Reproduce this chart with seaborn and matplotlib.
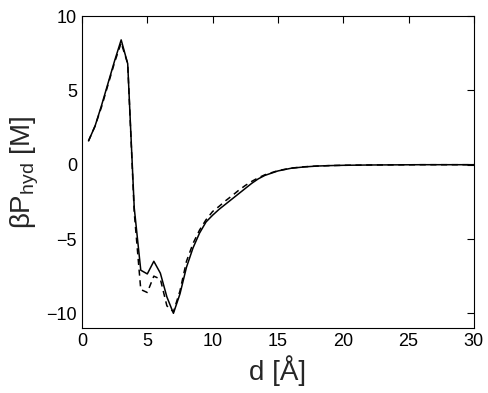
import numpy as np
import pandas as pd
import matplotlib
matplotlib.use('Agg')
import matplotlib.pyplot as plt
import seaborn as sns

d = [0.5, 1.0, 1.5, 2.0, 2.5, 3.0, 3.5, 4.0, 4.5, 5.0, 5.5, 6.0, 6.5, 7.0,
     7.5, 8.0, 8.5, 9.0, 9.5, 10.0, 10.5, 11.0, 11.5, 12.0, 12.5, 13.0,
     13.5, 14.0, 15.0, 16.0, 17.0, 18.0, 19.0, 20.0, 22.0, 24.0, 26.0,
     28.0, 30.0]
p_full = [1.6, 2.6, 4.0, 5.5, 7.0, 8.4, 6.8, -2.9, -7.1, -7.35, -6.5, -7.3,
          -8.9, -10.0, -8.7, -6.9, -5.6, -4.6, -3.85, -3.4, -3.0, -2.65,
          -2.3, -1.95, -1.6, -1.25, -0.95, -0.72, -0.42, -0.24, -0.15, -0.09,
          -0.06, -0.04, -0.02, -0.01, 0.0, 0.0, 0.0]
p_approx = [1.6, 2.6, 3.9, 5.4, 6.9, 8.2, 6.8, -3.2, -8.4, -8.6, -7.5, -7.7,
            -9.5, -9.9, -8.5, -6.5, -5.3, -4.4, -3.7, -3.15, -2.8, -2.42,
            -2.08, -1.72, -1.4, -1.12, -0.88, -0.68, -0.4, -0.23, -0.14, -0.09,
            -0.06, -0.04, -0.02, -0.01, 0.0, 0.0, 0.0]

df = pd.DataFrame({
    'd': d * 2,
    'P': p_full + p_approx,
    'kind': ['full'] * len(d) + ['approx'] * len(d),
})

sns.set_style('white')
plt.rcParams['font.family'] = ['Liberation Sans', 'DejaVu Sans']
plt.rcParams['mathtext.fontset'] = 'custom'
plt.rcParams['mathtext.rm'] = 'Liberation Sans'
plt.rcParams['mathtext.it'] = 'Liberation Sans'

fig = plt.figure(figsize=(4.88, 3.93), dpi=100)
ax = fig.add_axes([0.168, 0.165, 0.803, 0.794])
sns.lineplot(data=df, x='d', y='P', style='kind', style_order=['full', 'approx'],
             dashes={'full': '', 'approx': (4, 3)}, color='black',
             linewidth=1.1, legend=False, ax=ax)

ax.set_xlim(0, 30)
ax.set_ylim(-11, 10)
ax.set_xticks([0, 5, 10, 15, 20, 25, 30])
ax.set_yticks([-10, -5, 0, 5, 10])
ax.tick_params(direction='in', length=5, width=0.8, labelsize=13,
               top=True, right=True, colors='black')
for s in ax.spines.values():
    s.set_color('black')
    s.set_linewidth(0.8)
ax.set_xlabel('d [Å]', fontsize=20)
ax.set_ylabel(r'$\beta\mathrm{P}_{\mathrm{hyd}}$ [M]', fontsize=20)

fig.savefig('out.png', dpi=100)
